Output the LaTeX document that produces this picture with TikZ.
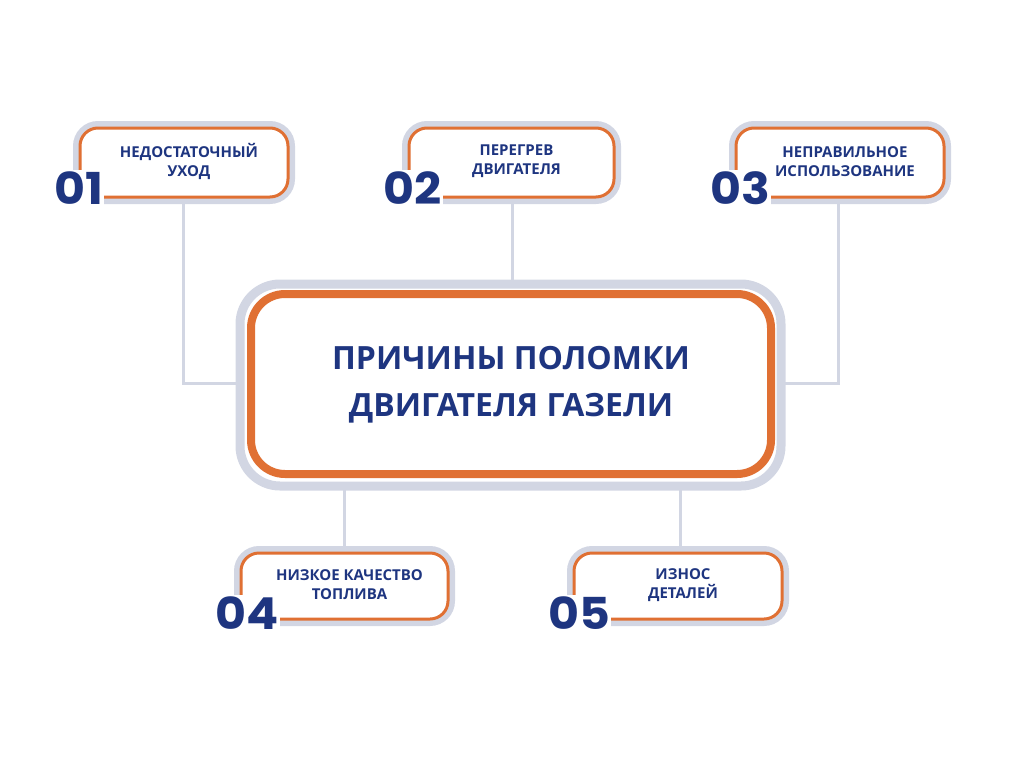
\documentclass[tikz,border=0pt]{standalone}
\usepackage{fontspec}
\setmainfont{Open Sans}
\newfontfamily\numfont{Poppins}
\definecolor{navy}{HTML}{1E3580}
\definecolor{org}{HTML}{E07033}
\definecolor{gr}{HTML}{D2D6E3}
\begin{document}
\begin{tikzpicture}[x=1pt,y=-1pt,
 outer/.style={draw=gr,line width=6pt,fill=white,rounded corners=22pt},
 inner/.style={draw=org,line width=3pt,rounded corners=18pt},
 lab/.style={text=navy,font=\bfseries\fontsize{15}{19}\selectfont,align=center},
 num/.style={text=navy,font=\numfont\bfseries\fontsize{44}{44}\selectfont,fill=white,inner sep=1pt,anchor=base west,xscale=1.08},
 con/.style={draw=gr,line width=3pt}]
\useasboundingbox (0,0) rectangle (1024,768);
\coordinate (c1) at (183,383); \coordinate (c3) at (838,383);
% connectors
\draw[con] (183,200) -- (c1) -- (241,383);
\draw[con] (512,200) -- (512,284);
\draw[con] (838,200) -- (c3) -- (781,383);
\draw[con] (344,486) -- (344,550);
\draw[con] (680,486) -- (680,550);
% central
\draw[outer,line width=9pt,rounded corners=40pt] (240,284) rectangle (781,486);
\draw[draw=org,line width=8pt,rounded corners=34pt] (251,294) rectangle (771,474);
\node (m) [text=navy,font=\bfseries\fontsize{32}{47}\selectfont,align=center] at (511,385) {ПРИЧИНЫ ПОЛОМКИ\\ДВИГАТЕЛЯ ГАЗЕЛИ};
% small boxes
\foreach \x/\y/\w/\h/\t/\n [count=\i] in {
 76/124/216/77/{НЕДОСТАТОЧНЫЙ\\УХОД}/01,
 405/124/213/77/{ПЕРЕГРЕВ\\ДВИГАТЕЛЯ}/02,
 732/124/216/77/{НЕПРАВИЛЬНОЕ\\ИСПОЛЬЗОВАНИЕ}/03,
 237/549/215/74/{НИЗКОЕ КАЧЕСТВО\\ТОПЛИВА}/04,
 570/549/216/74/{ИЗНОС\\ДЕТАЛЕЙ}/05}{
 \draw[outer] (\x,\y) rectangle ++(\w,\h);
 \draw[inner] (\x+4,\y+4) rectangle ++(\w-8,\h-8);
 \node (b\i) [lab] at (\x+\w/2+5,\y+\h/2-1) {\t};
 \node (n\i) [num] at (\x-23,\y+80) {\n};
}
\end{tikzpicture}
\end{document}
